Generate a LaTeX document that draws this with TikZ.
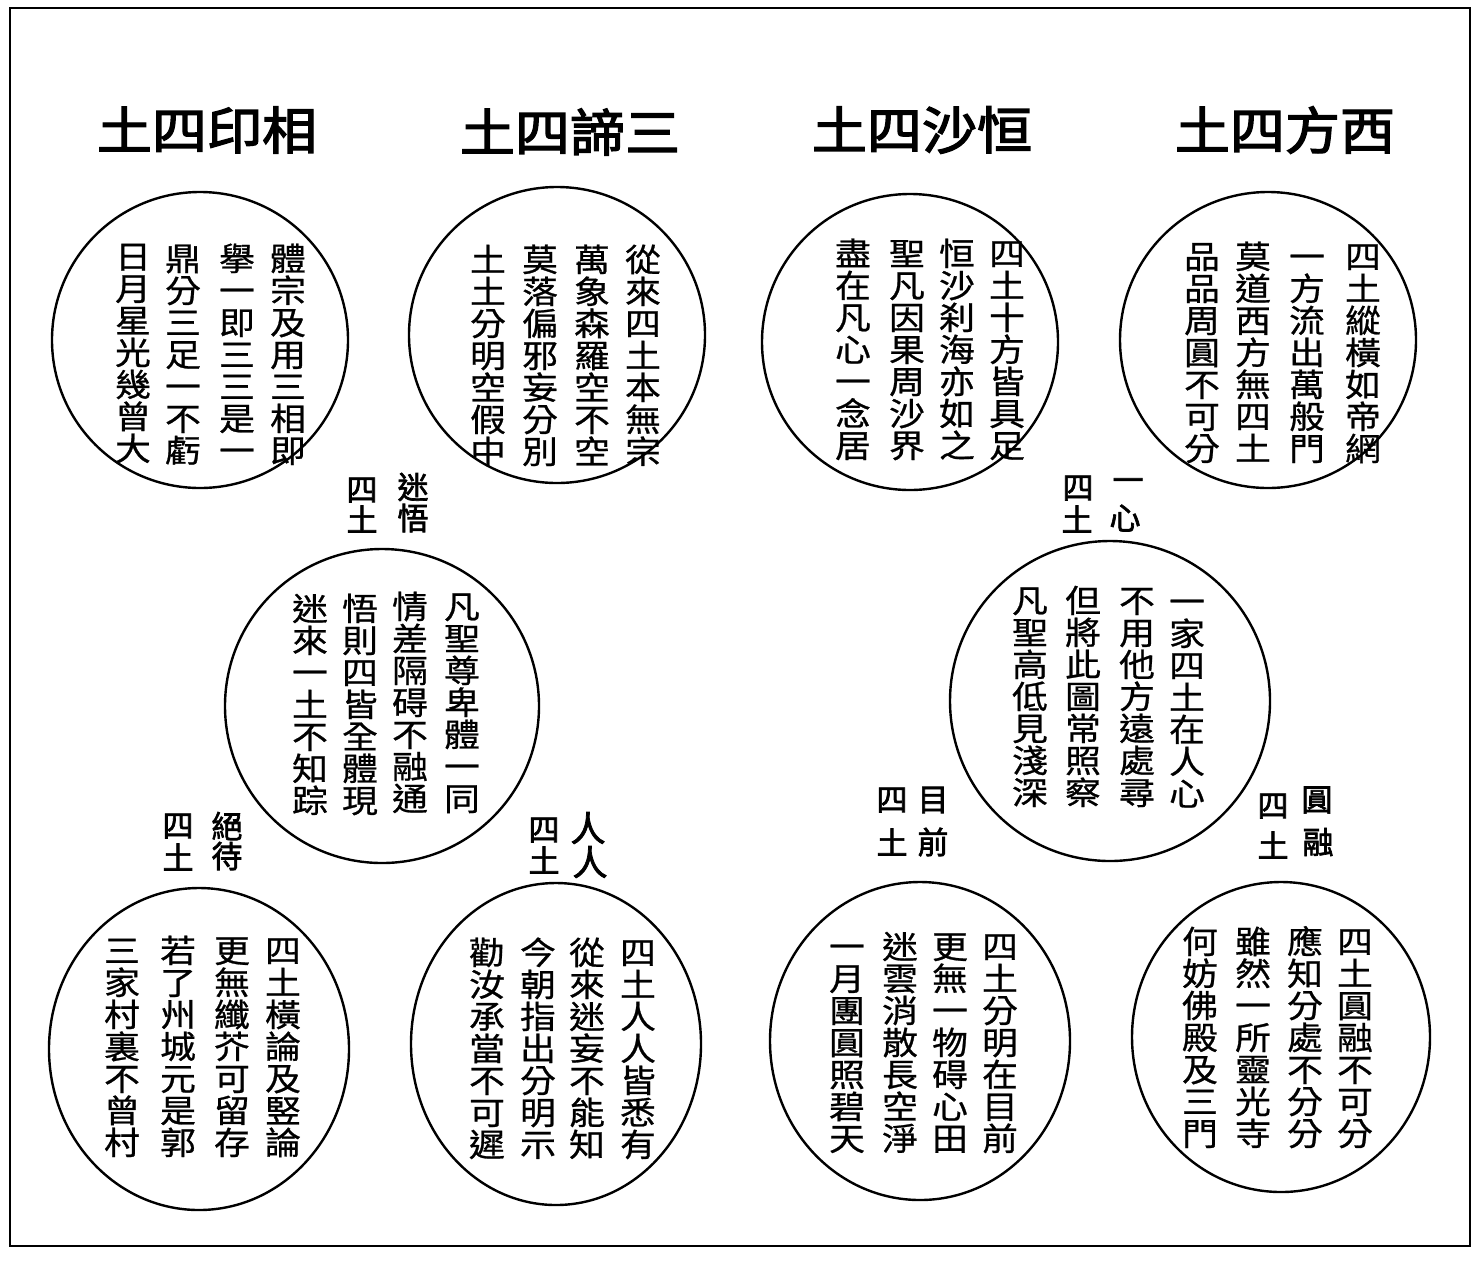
\documentclass[tikz,border=0pt]{standalone}
\usepackage{fontspec}
\usetikzlibrary{shapes.geometric}
\newfontfamily\cjk[FakeStretch=1.12,FakeBold=0.8]{Noto Sans CJK TC}
\newfontfamily\cjkb[FakeBold=2.2]{Noto Sans CJK TC}
\newfontfamily\cjkt[FakeBold=2.6,FakeStretch=1.08]{Noto Sans CJK TC}
\newdimen\vgap \vgap=0pt
\makeatletter
\def\vcol#1{\vbox{\offinterlineskip\vcol@loop#1\relax}}
\def\vcol@loop#1{\ifx\relax#1\else\hbox to 1.12em{\hss\vrule height .86em depth .14em width 0pt #1\hss}\kern\vgap\expandafter\vcol@loop\fi}
\makeatother
\tikzset{
  ring/.style={draw, line width=2.4pt, circle, inner sep=0pt},
  oval/.style={draw, line width=2.4pt, ellipse, inner sep=0pt},
  col/.style={inner sep=0pt, font=\cjk\fontsize{32}{32}\selectfont},
  ttl/.style={inner sep=0pt, font=\cjkt\fontsize{51}{51}\selectfont},
  lbl/.style={inner sep=0pt, font=\cjkb\fontsize{31}{31}\selectfont},
  biglbl/.style={inner sep=0pt, font=\cjkb\fontsize{35}{35}\selectfont},
}
\begin{document}
\begin{tikzpicture}[x=1pt,y=-1pt]
\useasboundingbox (0,0) rectangle (1479,1262);
\fill[white] (0,0) rectangle (1479,1262);
\draw[line width=2.6pt] (10,8) rectangle (1470,1246);

% titles
\node[ttl] (t1) at (207,130) {土四印相};
\node[ttl] (t2) at (570,132) {土四諦三};
\node[ttl] (t3) at (922,130) {土四沙恒};
\node[ttl] (t4) at (1285,130) {土四方西};

% top row circles
\node[ring, minimum size=296pt] (c1) at (200,340) {};
\node[col] (c1a) at (288,355) {\vcol{體宗及用三相即}};
\node[col] (c1b) at (237,355) {\vcol{擧一即三三是一}};
\node[col] (c1c) at (183,355) {\vcol{鼎分三足一不虧}};
\node[col] (c1d) at (133,353) {\vcol{日月星光幾曾大}};

\node[ring, minimum size=296pt] (c2) at (557,335) {};
\node[col] (c2a) at (643,356) {\vcol{從來四土本無宗}};
\node[col] (c2b) at (592,356) {\vcol{萬象森羅空不空}};
\node[col] (c2c) at (540,356) {\vcol{莫落偏邪妄分別}};
\node[col] (c2d) at (488,356) {\vcol{土土分明空假中}};

\node[ring, minimum size=296pt] (c3) at (910,342) {};
\node[col] (c3a) at (1007,350) {\vcol{四土十方皆具足}};
\node[col] (c3b) at (957,350) {\vcol{恒沙刹海亦如之}};
\node[col] (c3c) at (907,350) {\vcol{聖凡因果周沙界}};
\node[col] (c3d) at (853,350) {\vcol{盡在凡心一念居}};

\node[ring, minimum size=296pt] (c4) at (1268,340) {};
\node[col] (c4a) at (1363,353) {\vcol{四土縱橫如帝網}};
\node[col] (c4b) at (1307,353) {\vcol{一方流出萬般門}};
\node[col] (c4c) at (1253,353) {\vcol{莫道西方無四土}};
\node[col] (c4d) at (1202,353) {\vcol{品品周圓不可分}};

% middle row
\node[lbl] (m1l1) at (413,487) {迷};
\node[lbl] (m1l2) at (413,518) {悟};
\node[lbl] (m1l3) at (362,490) {四};
\node[lbl] (m1l4) at (362,519) {土};
\node[ring, minimum size=314pt] (m1) at (382,706) {};
\node[col] (m1a) at (462,703) {\vcol{凡聖尊卑體一同}};
\node[col] (m1b) at (410,703) {\vcol{情差隔碍不融通}};
\node[col] (m1c) at (360,705) {\vcol{悟則四皆全體現}};
\node[col] (m1d) at (310,705) {\vcol{迷來一土不知踪}};

\node[lbl] (m2l1) at (1128,485) {一};
\node[lbl] (m2l2) at (1125,518) {心};
\node[lbl] (m2l3) at (1078,488) {四};
\node[lbl] (m2l4) at (1077,519) {土};
\node[ring, minimum size=320pt] (m2) at (1110,701) {};
\node[col] (m2a) at (1187,698) {\vcol{一家四土在人心}};
\node[col] (m2b) at (1137,697) {\vcol{不用他方遠處尋}};
\node[col] (m2c) at (1083,697) {\vcol{但將此圖常照察}};
\node[col] (m2d) at (1030,697) {\vcol{凡聖高低見淺深}};

% bottom row labels
\node[lbl] (b1l1) at (227,826) {絕};
\node[lbl] (b1l2) at (227,856) {待};
\node[lbl] (b1l3) at (178,826) {四};
\node[lbl] (b1l4) at (178,857) {土};

\node[biglbl] (b2l1) at (588,828) {人};
\node[biglbl] (b2l2) at (590,862) {人};
\node[lbl] (b2l3) at (544,830) {四};
\node[lbl] (b2l4) at (544,860) {土};

\node[lbl] (b3l1) at (933,800) {目};
\node[lbl] (b3l2) at (933,842) {前};
\node[lbl] (b3l3) at (892,800) {四};
\node[lbl] (b3l4) at (892,842) {土};

\node[lbl] (b4l1) at (1317,800) {圓};
\node[lbl] (b4l2) at (1318,842) {融};
\node[lbl] (b4l3) at (1273,806) {四};
\node[lbl] (b4l4) at (1273,845) {土};

% bottom row circles
\node[oval, minimum width=300pt, minimum height=322pt] (b1) at (199,1049) {};
\node[col] (b1a) at (283,1047) {\vcol{四土橫論及竪論}};
\node[col] (b1b) at (232,1047) {\vcol{更無纖芥可留存}};
\node[col] (b1c) at (178,1047) {\vcol{若了州城元是郭}};
\node[col] (b1d) at (122,1047) {\vcol{三家村裏不曾村}};

\node[oval, minimum width=290pt, minimum height=322pt] (b2) at (556,1044) {};
\node[col] (b2a) at (638,1049) {\vcol{四土人人皆悉有}};
\node[col] (b2b) at (587,1049) {\vcol{從來迷妄不能知}};
\node[col] (b2c) at (538,1049) {\vcol{今朝指出分明示}};
\node[col] (b2d) at (487,1049) {\vcol{勸汝承當不可遲}};

\node[oval, minimum width=300pt, minimum height=318pt] (b3) at (920,1041) {};
\node[col] (b3a) at (1000,1043) {\vcol{四土分明在目前}};
\node[col] (b3b) at (950,1043) {\vcol{更無一物碍心田}};
\node[col] (b3c) at (900,1043) {\vcol{迷雲消散長空淨}};
\node[col] (b3d) at (847,1043) {\vcol{一月團圓照碧天}};

\node[oval, minimum width=298pt, minimum height=310pt] (b4) at (1281,1037) {};
\node[col] (b4a) at (1355,1038) {\vcol{四土圓融不可分}};
\node[col] (b4b) at (1305,1038) {\vcol{應知分處不分分}};
\node[col] (b4c) at (1253,1038) {\vcol{雖然一所靈光寺}};
\node[col] (b4d) at (1200,1038) {\vcol{何妨佛殿及三門}};
\end{tikzpicture}
\end{document}
